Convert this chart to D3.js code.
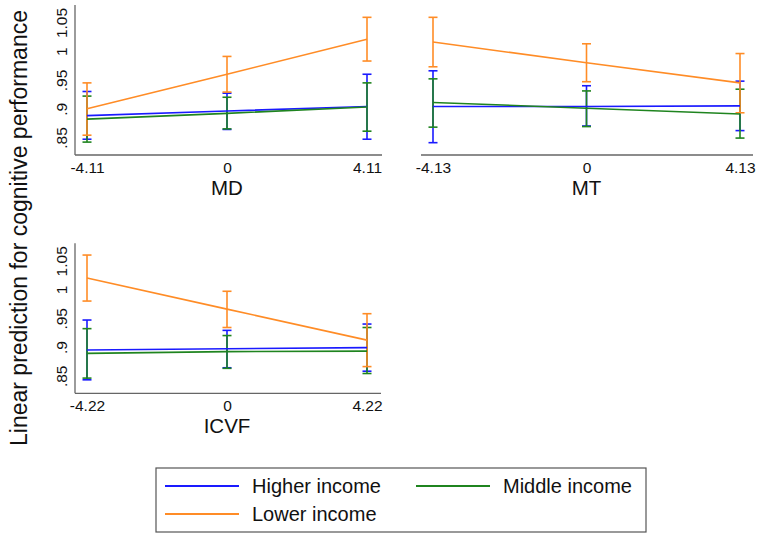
<!DOCTYPE html>
<meta charset="utf-8">
<script src="https://d3js.org/d3.v7.min.js"></script>
<style>
  body { margin: 0; background: #fff; }
  text { font-family: "Liberation Sans", Arial, sans-serif; fill: #111; }
</style>
<div id="chart"></div>
<script>
// x positions (standardised predictor values) per panel
var mdX = [-4.11, 0, 4.11];
var mtX = [-4.13, 0, 4.13];
var icvfX = [-4.22, 0, 4.22];

// each point: [estimate, lower CI, upper CI]
var mdHigher = [[0.888, 0.847, 0.930], [0.896, 0.864, 0.927], [0.904, 0.847, 0.960]];
var mdMiddle = [[0.882, 0.842, 0.922], [0.892, 0.865, 0.920], [0.903, 0.861, 0.945]];
var mdLower  = [[0.900, 0.854, 0.945], [0.960, 0.929, 0.991], [1.021, 0.983, 1.059]];

var mtHigher = [[0.904, 0.841, 0.966], [0.904, 0.870, 0.940], [0.905, 0.862, 0.948]];
var mtMiddle = [[0.911, 0.868, 0.952], [0.901, 0.869, 0.931], [0.891, 0.849, 0.934]];
var mtLower  = [[1.016, 0.973, 1.059], [0.980, 0.947, 1.013], [0.945, 0.893, 0.996]];

var icvfHigher = [[0.895, 0.843, 0.947], [0.897, 0.864, 0.929], [0.899, 0.858, 0.940]];
var icvfMiddle = [[0.889, 0.846, 0.932], [0.892, 0.863, 0.920], [0.893, 0.854, 0.934]];
var icvfLower  = [[1.020, 0.980, 1.060], [0.966, 0.934, 0.997], [0.912, 0.866, 0.958]];

var groups = ["Higher income", "Middle income", "Lower income"];
var yTicks = [0.85, 0.9, 0.95, 1, 1.05];
var yTickLabels = [".85", ".9", ".95", "1", "1.05"];
var yTitle = "Linear prediction for cognitive performance";

var colors = {"Higher income": "#1a1aff", "Middle income": "#1f841f", "Lower income": "#ff8c26"};

var panels = [
  {name: "MD", xs: mdX, series: [mdHigher, mdMiddle, mdLower], left: 75, right: 382, top: 0, x0: 87, x1: 367, yaxis: true},
  {name: "MT", xs: mtX, series: [mtHigher, mtMiddle, mtLower], left: 421, right: 753, top: 0, x0: 433, x1: 740, yaxis: false},
  {name: "ICVF", xs: icvfX, series: [icvfHigher, icvfMiddle, icvfLower], left: 75, right: 381, top: 238.3, x0: 87, x1: 367, yaxis: true}
];

var svg = d3.select("#chart").append("svg")
  .attr("width", 759)
  .attr("height", 537);

var axisColor = "#666";

// plain hyphen instead of unicode minus, like the original
function fmtX(d) {
  if (d === 0) return "0";
  return (d < 0 ? "-" : "") + Math.abs(d).toFixed(2);
}

panels.forEach(function(p) {
  var g = svg.append("g").attr("transform", "translate(0," + p.top + ")");

  var x = d3.scaleLinear().domain([p.xs[0], p.xs[2]]).range([p.x0, p.x1]);
  var y = d3.scaleLinear().domain([0.85, 1.05]).range([137.5, 22.5]);

  // axis lines
  g.append("line")
    .attr("x1", p.left).attr("x2", p.right)
    .attr("y1", 155).attr("y2", 155)
    .style("stroke", axisColor).style("stroke-width", 1.3);
  if (p.yaxis) {
    g.append("line")
      .attr("x1", p.left).attr("x2", p.left)
      .attr("y1", 5).attr("y2", 155)
      .style("stroke", axisColor).style("stroke-width", 1.3);
  }

  // x axis labels
  var xAxis = g.append("g")
    .attr("transform", "translate(0,155)")
    .call(d3.axisBottom(x).tickValues(p.xs).tickSize(0).tickPadding(7).tickFormat(fmtX));
  xAxis.select(".domain").remove();
  xAxis.selectAll("text")
    .style("font-size", "15.5px")
    .style("font-family", "'Liberation Sans', Arial, sans-serif")
    .attr("fill", "#111");

  if (p.yaxis) {
    var yAxis = g.append("g")
      .attr("transform", "translate(" + p.left + ",0)")
      .call(d3.axisLeft(y).tickValues(yTicks).tickSize(0)
        .tickFormat(function(d, i) { return yTickLabels[i]; }));
    yAxis.select(".domain").remove();
    yAxis.selectAll("text")
      .attr("x", null).attr("dy", null)
      .attr("transform", "translate(-8,0) rotate(-90)")
      .attr("text-anchor", "middle")
      .attr("fill", "#111")
      .style("font-size", "15.5px")
      .style("font-family", "'Liberation Sans', Arial, sans-serif");
  }

  // axis title
  g.append("text")
    .attr("x", (p.x0 + p.x1) / 2)
    .attr("y", 195)
    .attr("text-anchor", "middle")
    .style("font-size", "20.5px")
    .text(p.name);

  // confidence intervals then fitted lines
  p.series.forEach(function(s, i) {
    var c = colors[groups[i]];
    var cg = g.append("g");
    s.forEach(function(d, j) {
      var cx = x(p.xs[j]);
      cg.append("line")
        .attr("x1", cx).attr("x2", cx)
        .attr("y1", y(d[1])).attr("y2", y(d[2]))
        .style("stroke", c).style("stroke-width", 1.6);
      [d[1], d[2]].forEach(function(v) {
        cg.append("line")
          .attr("x1", cx - 4.5).attr("x2", cx + 4.5)
          .attr("y1", y(v)).attr("y2", y(v))
          .style("stroke", c).style("stroke-width", 1.6);
      });
    });
  });

  p.series.forEach(function(s, i) {
    var line = d3.line()
      .x(function(d, j) { return x(p.xs[j]); })
      .y(function(d) { return y(d[0]); });
    g.append("path")
      .datum(s)
      .attr("d", line)
      .style("fill", "none")
      .style("stroke", colors[groups[i]])
      .style("stroke-width", 1.6);
  });
});

// shared y title
svg.append("text")
  .attr("transform", "translate(27,228) rotate(-90)")
  .attr("text-anchor", "middle")
  .style("font-size", "23px")
  .text(yTitle);

// legend
var legend = svg.append("g");
legend.append("rect")
  .attr("x", 156).attr("y", 468)
  .attr("width", 490).attr("height", 64)
  .style("fill", "#fff")
  .style("stroke", "#555")
  .style("stroke-width", 1.2);

var legendPos = [
  {lx: 165, tx: 252, y: 486},
  {lx: 416, tx: 503, y: 486},
  {lx: 165, tx: 252, y: 514}
];
groups.forEach(function(name, i) {
  var lp = legendPos[i];
  legend.append("line")
    .attr("x1", lp.lx).attr("x2", lp.lx + 74)
    .attr("y1", lp.y).attr("y2", lp.y)
    .style("stroke", colors[name]).style("stroke-width", 2);
  legend.append("text")
    .attr("x", lp.tx).attr("y", lp.y + 7)
    .style("font-size", "20px")
    .text(name);
});
</script>
